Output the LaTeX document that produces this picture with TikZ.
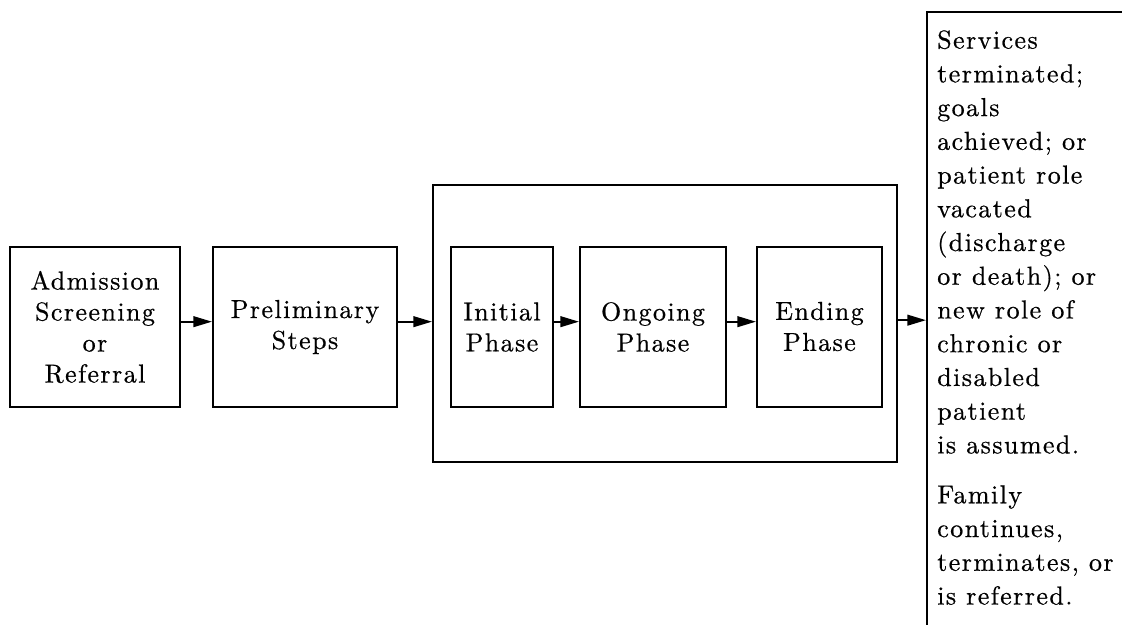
\documentclass[tikz,border=0pt]{standalone}
\usepackage{fontspec}
\setmainfont{lmroman10-regular.otf}[LetterSpace=5.5,FakeBold=0.6]
\usetikzlibrary{arrows.meta}
\newcommand\mybxfont{\fontsize{19.5}{23.25}\selectfont}
\newcommand\myrtfont{\fontsize{19.5}{25.3}\selectfont}
\begin{document}
\begin{tikzpicture}[x=0.75pt,y=-0.75pt,
  box/.style={draw,line width=1.5pt,align=center,inner sep=0pt,minimum height=120pt,font=\mybxfont},
  arr/.style={line width=1.5pt,-{Triangle[length=14pt,width=8pt]}},
  rtext/.style={anchor=north west,inner sep=0pt,align=left,font=\myrtfont}
]
\clip (0,0) rectangle (1122,625);
% outer phase box
\node[draw,line width=1.5pt,inner sep=0pt,minimum width=348pt,minimum height=207.75pt] (big) at (665,323.5) {};
% boxes
\node[box,minimum width=127.5pt] (A) at (95,327) {Admission\\Screening\\or\\Referral};
\node[box,minimum width=138pt] (B) at (305,327) {Preliminary\\Steps};
\node[box,minimum width=76.5pt] (I) at (502,327) {Initial\\Phase};
\node[box,minimum width=109.5pt] (O) at (653,327) {Ongoing\\Phase};
\node[box,minimum width=93.75pt] (E) at (819.5,326.5) {Ending\\Phase};
% right box (open to the right and bottom)
\node[draw,line width=1.5pt,inner sep=0pt,minimum width=167.25pt,minimum height=478.5pt] (R) at (1038.5,331) {};
\node[rtext] (t1) at (937,30) {Services\\terminated;\\goals\\achieved; or\\patient role\\vacated\\(discharge\\or death); or\\new role of\\chronic or\\disabled\\patient\\is assumed.};
\node[rtext] (t2) at (937,485) {Family\\continues,\\terminates, or\\is referred.};
% connectors
\draw[arr] ([yshift=4pt]A.east) -- ([yshift=4pt]A.east -| B.west);
\draw[arr] ([yshift=4pt]B.east) -- ([yshift=4pt]B.east -| big.west);
\draw[arr] ([yshift=4pt]I.east) -- ([yshift=4pt]I.east -| O.west);
\draw[arr] ([yshift=4pt]O.east) -- ([yshift=4pt]O.east -| E.west);
\draw[arr] ([yshift=2.5pt]big.east) -- ([yshift=2.5pt]big.east -| R.west);
\end{tikzpicture}
\end{document}
